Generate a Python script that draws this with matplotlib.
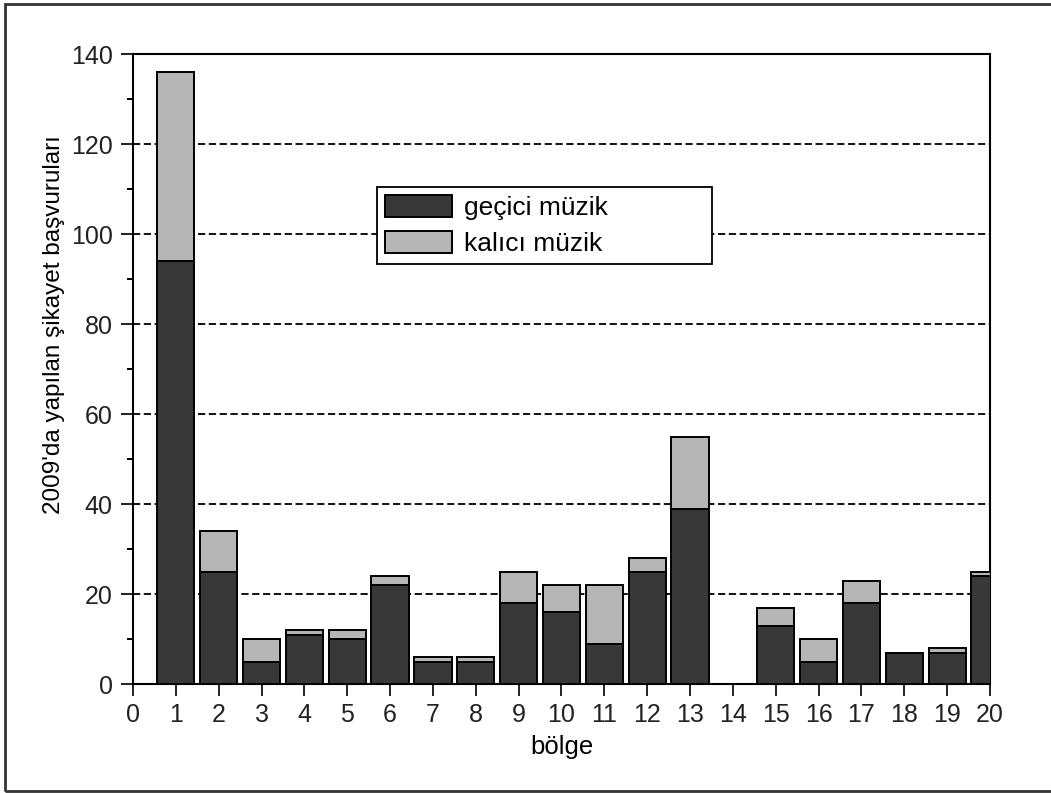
import numpy as np
import matplotlib
matplotlib.use("Agg")
from matplotlib import pyplot as plt
from matplotlib.patches import Rectangle
from matplotlib.ticker import MultipleLocator

# bolgeler ve sikayet sayilari
bolgeler = list(range(1, 21))
gecici = [94, 25, 5, 11, 10, 22, 5, 5, 18, 16, 9, 25, 39, 0, 13, 5, 18, 7, 7, 24]
kalici = [42, 9, 5, 1, 2, 2, 1, 1, 7, 6, 13, 3, 16, 0, 4, 5, 5, 0, 1, 1]

koyu = "#383838"
acik = "#b5b5b5"

plt.rcParams['font.family'] = ['Liberation Sans', 'DejaVu Sans']


def main():
    fig = plt.figure(figsize=(10.51, 7.93), dpi=100)
    ax = fig.add_axes([0.1265, 0.1374, 0.8155, 0.7945])

    # disaridaki cerceve (sag kenar goruntunun disinda)
    fig.patches.append(Rectangle((0.0045, 0.003), 1.1, 0.9915, transform=fig.transFigure,
                                 fill=False, edgecolor="#333333", linewidth=2.0))

    ax.bar(bolgeler, gecici, width=0.87, color=koyu, edgecolor="black", linewidth=1.4,
           label="geçici müzik", zorder=3)
    ax.bar(bolgeler, kalici, width=0.87, bottom=gecici, color=acik, edgecolor="black",
           linewidth=1.4, label="kalıcı müzik", zorder=3)

    ax.set_xlim(0, 20)
    ax.set_ylim(0, 140)
    ax.set_xticks(range(0, 21))
    ax.yaxis.set_major_locator(MultipleLocator(20))
    ax.yaxis.set_minor_locator(MultipleLocator(10))

    for v in range(20, 140, 20):
        ax.axhline(v, color="black", linestyle=(0, (4, 2)), linewidth=1.3, zorder=1)

    for s in ax.spines.values():
        s.set_linewidth(1.5)
    ax.tick_params(axis="both", which="major", direction="out", length=8.5, width=1.4,
                   labelsize=18, colors="#222222")
    ax.tick_params(axis="y", which="minor", direction="out", length=4.5, width=1.4)
    ax.tick_params(axis="x", pad=5)
    ax.tick_params(axis="y", pad=6)

    ax.set_xlabel("bölge", fontsize=18.5, labelpad=6)
    ax.set_ylabel("2009'da yapılan şikayet başvuruları", fontsize=17.5)
    # etiket eksenin ortasinda degil, biraz yukarida
    ax.yaxis.set_label_coords(-0.079, 0.57)

    leg = ax.legend(loc="upper left", bbox_to_anchor=(0.2847, 0.7894), borderaxespad=0,
                    fontsize=19, handlelength=2.55, handleheight=0.95, fancybox=False,
                    framealpha=1, edgecolor="black", borderpad=0.3, labelspacing=0.4,
                    handletextpad=0.45)
    leg.get_frame().set_linewidth(1.3)
    for t in leg.get_texts():
        t.set_text(t.get_text() + "             ")

    fig.savefig("out.png", dpi=100)


if __name__ == '__main__':
    main()
